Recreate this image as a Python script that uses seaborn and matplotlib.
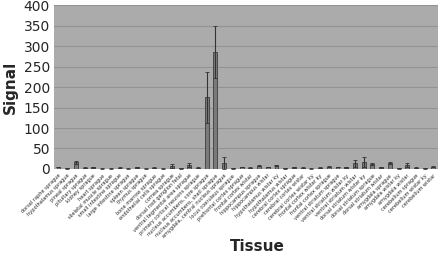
import numpy as np
import pandas as pd
import matplotlib
matplotlib.use("Agg")
import matplotlib.pyplot as plt
import seaborn as sns

tissues = [
    "dorsal raphe sprague", "hypothalamus sprague", "pineal sprague",
    "pituitary sprague", "kidney sprague", "heart sprague",
    "skeletal muscle sprague", "small intestine sprague",
    "large intestine sprague", "spleen sprague", "thymus sprague",
    "bone marrow sprague", "endothelial cells sprague", "cornea sprague",
    "dorsal root ganglion fetal", "ventral tegmental area sprague",
    "primary cortical neurons sprague", "nucleus accumbens, core sprague",
    "nucleus accumbens, shell sprague", "amygdala, central nucleus sprague",
    "locus coeruleus sprague", "prefrontal cortex sprague",
    "frontal cortex wistar", "hippocampus sprague", "hippocampus wistar",
    "hypothalamus wistar ky", "hypothalamus wistar", "cerebral cortex sprague",
    "cerebral cortex wistar", "cerebral cortex wistar ky",
    "frontal cortex wistar ky", "frontal cortex sprague",
    "ventral striatum sprague", "ventral striatum wistar ky",
    "ventral striatum wistar", "dorsal striatum wistar ky",
    "dorsal striatum sprague", "dorsal striatum wistar", "amygdala sprague",
    "amygdala wistar ky", "amygdala wistar", "cerebellum sprague",
    "cerebellum wistar ky", "cerebellum wistar",
]
signal = [5, 2, 16, 3, 4, 1, 1, 3, 1, 4, 1, 3, 1, 8, 2, 10, 3, 175, 285, 15,
          2, 5, 3, 8, 5, 9, 2, 4, 3, 1, 3, 6, 5, 4, 14, 17, 12, 4, 14, 2, 10,
          3, 2, 6]
error = [1, 1, 4, 1, 1, 0.5, 0.5, 1, 0.5, 1, 0.5, 1, 0.5, 5, 1, 4, 1, 62, 63,
         14, 1, 1, 1, 1, 1, 1, 1, 1, 1, 0.5, 1, 1, 1, 1, 8, 12, 2, 1, 2, 1, 5,
         1, 1, 1]

df = pd.DataFrame({"Tissue": tissues, "Signal": signal, "err": error})

sns.set_style("white", {"axes.facecolor": "#ababab"})

fig, ax = plt.subplots(figsize=(4.4, 2.56), dpi=100)
fig.subplots_adjust(left=0.123, right=0.995, top=0.98, bottom=0.34)

sns.barplot(data=df, x="Tissue", y="Signal", color="#7a7a7a",
            edgecolor="#3c3c3c", linewidth=0.6, width=0.45, ax=ax,
            saturation=1, errorbar=None)
ax.errorbar(np.arange(len(df)), df["Signal"], yerr=df["err"], fmt="none",
            ecolor="#333333", elinewidth=0.8, capsize=1.5, capthick=0.6)

ax.set_ylim(0, 400)
ax.set_xlim(-0.5, len(df) - 0.5)
ax.set_yticks(range(0, 401, 50))
ax.yaxis.grid(True, color="#939393", linewidth=0.8)
ax.set_axisbelow(True)
for s in ax.spines.values():
    s.set_visible(False)

ax.tick_params(axis="y", labelsize=10, length=0, pad=3)
ax.tick_params(axis="x", labelsize=3.6, length=2, width=0.5, pad=1,
               color="#555555")
plt.setp(ax.get_xticklabels(), rotation=45, ha="right",
         rotation_mode="anchor")

ax.set_ylabel("Signal", fontsize=11, fontweight="bold", labelpad=4)
ax.set_xlabel("Tissue", fontsize=11, fontweight="bold")
ax.xaxis.set_label_coords(0.53, -0.43)

fig.savefig("out.png", dpi=100, facecolor="white")
